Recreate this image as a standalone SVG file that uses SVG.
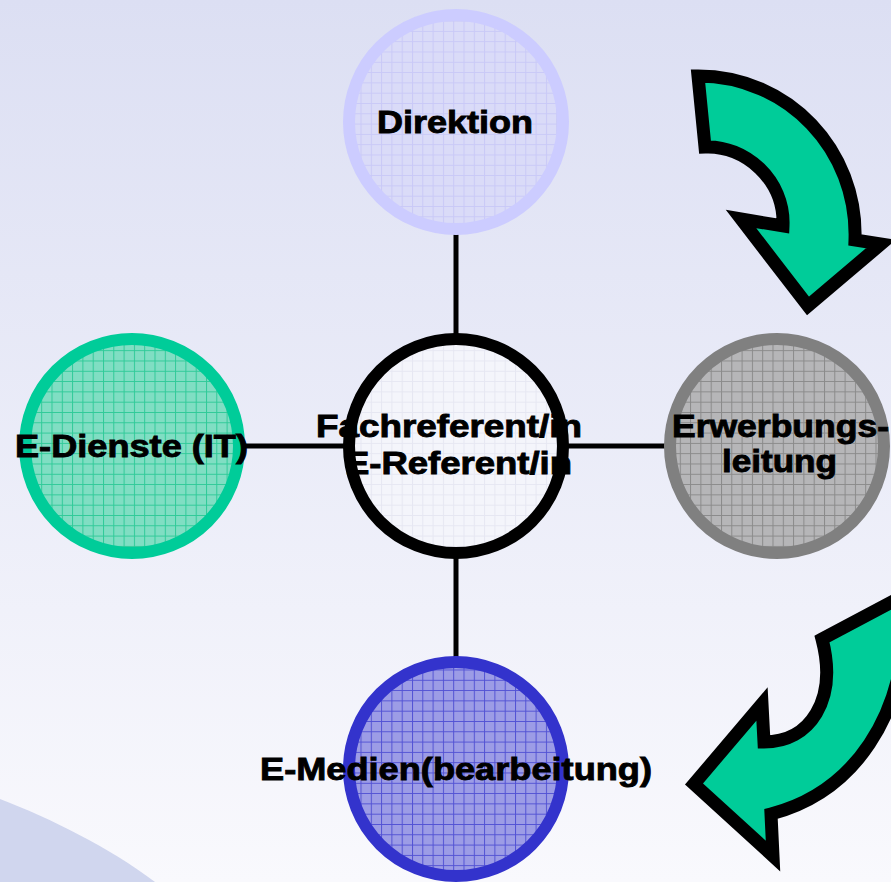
<svg xmlns="http://www.w3.org/2000/svg" width="891" height="882" viewBox="0 0 891 882">
<defs>
<linearGradient id="bg" x1="0" y1="0" x2="0" y2="1">
<stop offset="0" stop-color="#dcdff3"/>
<stop offset="1" stop-color="#f9f9fd"/>
</linearGradient>
<pattern id="pTop" patternUnits="userSpaceOnUse" width="10.3" height="10.3">
<rect width="10.3" height="10.3" fill="#dadbf8"/>
<path d="M0 0.5H10.3M0.5 0V10.3" stroke="#c9c9f7" stroke-width="1"/>
</pattern>
<pattern id="pTeal" patternUnits="userSpaceOnUse" width="10.3" height="10.3">
<rect width="10.3" height="10.3" fill="#80dec3"/>
<path d="M0 0.5H10.3M0.5 0V10.3" stroke="#2fca98" stroke-width="1"/>
</pattern>
<pattern id="pCenter" patternUnits="userSpaceOnUse" width="10.3" height="10.3">
<rect width="10.3" height="10.3" fill="#f4f5fb"/>
<path d="M0 0.5H10.3M0.5 0V10.3" stroke="#e6e7f2" stroke-width="1"/>
</pattern>
<pattern id="pGray" patternUnits="userSpaceOnUse" width="10.3" height="10.3">
<rect width="10.3" height="10.3" fill="#b6b6b8"/>
<path d="M0 0.5H10.3M0.5 0V10.3" stroke="#8a8a8a" stroke-width="1"/>
</pattern>
<pattern id="pBlue" patternUnits="userSpaceOnUse" width="10.3" height="10.3">
<rect width="10.3" height="10.3" fill="#9c9ce6"/>
<path d="M0 0.5H10.3M0.5 0V10.3" stroke="#5252d4" stroke-width="1"/>
</pattern>
<style>
.lbl{font-family:"Liberation Sans",Arial,sans-serif;font-weight:bold;font-size:31.5px;fill:#000;stroke:#000;stroke-width:0.9}
.ring{stroke-width:12}
.conn{stroke:#000;stroke-width:5;fill:none}
.arrow{fill:#00cc99;stroke:#000;stroke-width:13;stroke-linejoin:miter;stroke-miterlimit:10}
</style>
</defs>
<rect x="0" y="0" width="891" height="882" fill="url(#bg)"/>
<path d="M0 799 C50 818 110 848 155 882 L0 882 Z" fill="#d0d6ee"/>

<g id="connectors">
<line class="conn" x1="456" y1="234" x2="456" y2="335"/>
<line class="conn" x1="245" y1="446" x2="345" y2="446"/>
<line class="conn" x1="567" y1="446" x2="667" y2="446"/>
<line class="conn" x1="456" y1="557" x2="456" y2="658"/>
</g>

<g id="arrow-top">
<path class="arrow" d="M698 76 C788 76 858 150 855 240 L881 244 L808 306 L741 219 L783 226 C785 180 745 145 705 147 Z"/>
</g>
<g id="arrow-bottom">
<path class="arrow" d="M822 639 L905 595 L905 615 C905 715 855 792 771 814 L773 856 L694 784 L762 704 L764 742 C810 742 838 700 822 639 Z"/>
</g>

<g id="node-direktion">
<circle cx="456" cy="122" r="107" fill="url(#pTop)" stroke="#ccccff" class="ring"/>
<text class="lbl" x="455" y="133" text-anchor="middle" textLength="156" lengthAdjust="spacingAndGlyphs">Direktion</text>
</g>

<g id="node-edienste">
<circle cx="132" cy="446" r="107" fill="url(#pTeal)" stroke="#00cc99" class="ring"/>
<text class="lbl" x="131.5" y="457" text-anchor="middle" textLength="233" lengthAdjust="spacingAndGlyphs">E-Dienste (IT)</text>
</g>

<g id="node-fachreferent">
<circle cx="456" cy="446" r="107" fill="url(#pCenter)"/>
<text class="lbl" x="449" y="437" text-anchor="middle" textLength="266" lengthAdjust="spacingAndGlyphs">Fachreferent/in</text>
<text class="lbl" x="458.5" y="474" text-anchor="middle" textLength="227" lengthAdjust="spacingAndGlyphs">E-Referent/in</text>
<circle cx="456" cy="446" r="107" fill="none" stroke="#000" class="ring"/>
</g>

<g id="node-erwerbung">
<circle cx="777" cy="446" r="107" fill="url(#pGray)" stroke="#808080" class="ring"/>
<text class="lbl" x="780.5" y="437" text-anchor="middle" textLength="217" lengthAdjust="spacingAndGlyphs">Erwerbungs-</text>
<text class="lbl" x="779.5" y="472" text-anchor="middle" textLength="115" lengthAdjust="spacingAndGlyphs">leitung</text>
</g>

<g id="node-emedien">
<circle cx="456" cy="769" r="107" fill="url(#pBlue)" stroke="#3333cc" class="ring"/>
<text class="lbl" x="456" y="780" text-anchor="middle" textLength="392" lengthAdjust="spacingAndGlyphs">E-Medien(bearbeitung)</text>
</g>
</svg>
